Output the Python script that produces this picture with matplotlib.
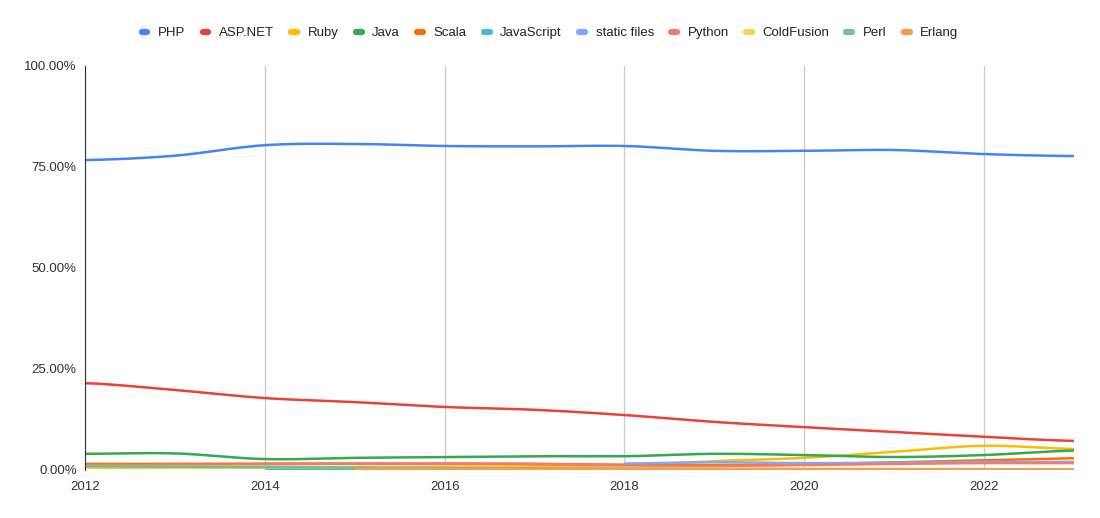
import numpy as np
import matplotlib
matplotlib.use("Agg")
import matplotlib.pyplot as plt
from matplotlib.ticker import FuncFormatter

plt.rcParams['font.family'] = ['Liberation Sans', 'DejaVu Sans']

# Data (share of websites, %)
years = [2012, 2013, 2014, 2015, 2016, 2017, 2018, 2019, 2020, 2021, 2022, 2023]
nan = np.nan
php = [76.7, 77.8, 80.4, 80.7, 80.2, 80.1, 80.2, 79.0, 79.0, 79.2, 78.2, 77.7]
aspnet = [21.5, 19.8, 17.8, 16.8, 15.6, 14.9, 13.6, 11.9, 10.6, 9.4, 8.2, 7.2]
ruby = [0.6, 0.6, 0.6, 0.7, 0.8, 0.9, 1.2, 2.2, 3.0, 4.5, 6.0, 5.2]
java = [4.0, 4.1, 2.7, 3.0, 3.2, 3.4, 3.4, 4.0, 3.7, 3.2, 3.7, 4.8]
scala = [1.5, 1.5, 1.6, 1.6, 1.6, 1.5, 1.3, 1.2, 1.4, 1.9, 2.4, 2.9]
javascript = [nan, nan, 0.3, 0.3, nan, nan, nan, nan, nan, nan, nan, nan]
static_files = [nan, nan, nan, nan, nan, nan, 1.6, 1.9, 1.7, 1.8, 2.0, 2.0]
python = [1.2, 1.3, 1.4, 1.5, 1.5, 1.5, 1.1, 1.0, 1.2, 1.5, 1.7, 1.7]
coldfusion = [0.8, 0.8, 0.7, 0.6, 0.6, 0.5, 0.5, 0.4, 0.3, 0.3, 0.2, 0.2]
perl = [0.9, 0.8, 0.7, 0.6, 0.5, 0.4, 0.3, 0.2, 0.2, 0.1, 0.1, 0.1]
erlang = [nan, nan, nan, 0.3, 0.3, 0.3, 0.2, 0.2, 0.2, 0.2, 0.1, 0.1]

names = ["PHP", "ASP.NET", "Ruby", "Java", "Scala", "JavaScript", "static files",
         "Python", "ColdFusion", "Perl", "Erlang"]
series = [php, aspnet, ruby, java, scala, javascript, static_files, python,
          coldfusion, perl, erlang]
colors = ["#4285F4", "#EA4335", "#FBBC04", "#34A853", "#FF6D01", "#46BDC6",
          "#7BAAF7", "#F07B72", "#FCD04F", "#71C287", "#FF994D"]


def smooth(x, y, n=20):
    # Catmull-Rom curve through the points (drawing only)
    x = np.asarray(x, float)
    y = np.asarray(y, float)
    xs, ys = [], []
    for i in range(len(x) - 1):
        p0 = y[i - 1] if i > 0 else y[i]
        p3 = y[i + 2] if i + 2 < len(y) else y[i + 1]
        p1, p2 = y[i], y[i + 1]
        t = np.linspace(0, 1, n, endpoint=False)
        yy = 0.5 * ((2 * p1) + (-p0 + p2) * t + (2 * p0 - 5 * p1 + 4 * p2 - p3) * t ** 2
                    + (-p0 + 3 * p1 - 3 * p2 + p3) * t ** 3)
        xs.append(x[i] + (x[i + 1] - x[i]) * t)
        ys.append(yy)
    xs.append([x[-1]])
    ys.append([y[-1]])
    return np.concatenate(xs), np.concatenate(ys)


fig = plt.figure(figsize=(11, 5.18), dpi=100)
ax = fig.add_axes([0.0773, 0.0927, 0.8990, 0.7799])

for name, vals, c in zip(names, series, colors):
    v = np.array(vals, float)
    ok = ~np.isnan(v)
    yrs = np.array(years)[ok]
    vv = v[ok]
    if len(vv) > 1:
        sx, sy = smooth(yrs, vv)
        ax.plot(sx, sy, color=c, linewidth=1.8, solid_capstyle='butt')
    ax.plot([], [], color=c, linewidth=4.5, label=name, solid_capstyle='round')

ax.set_xlim(2012, 2023)
ax.set_ylim(0, 100)
ax.set_xticks([2012, 2014, 2016, 2018, 2020, 2022])
ax.set_yticks([0, 25, 50, 75, 100])
ax.yaxis.set_major_formatter(FuncFormatter(lambda v, p: f"{v:.2f}%"))
ax.grid(axis='x', color='#cccccc', linewidth=1)
ax.set_axisbelow(True)
for s in ['top', 'right', 'bottom']:
    ax.spines[s].set_visible(False)
ax.spines['left'].set_color('#333333')
ax.tick_params(length=0, labelsize=9.5, colors='#333333')
ax.tick_params(axis='x', pad=8)
ax.tick_params(axis='y', pad=6)

fig.legend(loc='center', bbox_to_anchor=(0.5, 0.936), ncol=11, frameon=False,
           fontsize=9.5, handlelength=0.45, handletextpad=0.8, columnspacing=1.3,
           labelcolor='#222222')

fig.savefig("out.png", dpi=100)
